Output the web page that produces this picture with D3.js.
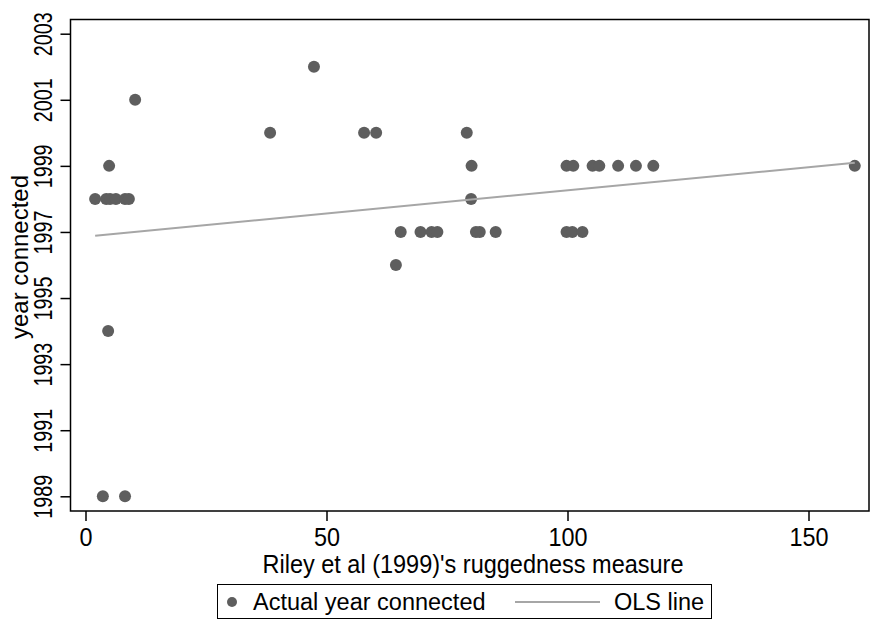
<!DOCTYPE html>
<html>
<head>
<meta charset="utf-8">
<script src="https://cdn.jsdelivr.net/npm/d3@7"></script>
<style>
  body { margin: 0; background: #fff; }
  text { font-family: "Liberation Sans", Arial, sans-serif; fill: #000; }
</style>
</head>
<body>
<div id="chart"></div>
<script>
// ruggedness measure (x) and year connected (y)
const rugged = [2.0, 4.3, 5.1, 6.3, 8.2, 9.0, 4.9, 4.7, 3.6, 8.2, 10.3,
                38.3, 47.4, 57.8, 60.3, 79.1, 80.1, 80.0,
                65.4, 69.5, 71.8, 73.0, 81.0, 81.8, 85.1, 64.4,
                99.8, 101.2, 105.2, 106.6, 110.5, 114.2, 117.8,
                99.8, 101.0, 103.1, 159.6];
const yearConnected = [1998, 1998, 1998, 1998, 1998, 1998, 1999, 1994, 1989, 1989, 2001,
                       2000, 2002, 2000, 2000, 2000, 1999, 1998,
                       1997, 1997, 1997, 1997, 1997, 1997, 1997, 1996,
                       1999, 1999, 1999, 1999, 1999, 1999, 1999,
                       1997, 1997, 1997, 1999];
// OLS fit: year = a + b * ruggedness
const olsCoef = [1996.86, 0.014];

const xTicks = [0, 50, 100, 150];
const yTicks = [1989, 1991, 1993, 1995, 1997, 1999, 2001, 2003];
const legendLabels = ["Actual year connected", "OLS line"];

const W = 873, H = 631;
const frame = {left: 70.5, top: 19.5, right: 869, bottom: 511};

const svg = d3.select("#chart").append("svg")
    .attr("width", W).attr("height", H);

const x = d3.scaleLinear().domain([0, 150]).range([85.5, 808.5]);
const y = d3.scaleLinear().domain([1989, 2003]).range([496.3, 33.7]);

// plot frame
svg.append("rect")
    .attr("x", frame.left).attr("y", frame.top)
    .attr("width", frame.right - frame.left)
    .attr("height", frame.bottom - frame.top)
    .attr("fill", "none").attr("stroke", "#000").attr("stroke-width", 1.5);

// x axis
const xAxis = svg.append("g")
    .attr("transform", "translate(0," + frame.bottom + ")")
    .call(d3.axisBottom(x).tickValues(xTicks).tickSize(10).tickPadding(7).tickFormat(d3.format("d")));
xAxis.select(".domain").remove();
xAxis.selectAll("line").attr("stroke", "#000").attr("stroke-width", 1.5);
xAxis.selectAll("text").attr("font-size", 26).attr("fill", "#000")
    .attr("transform", "scale(0.9,1)");

// y axis with rotated labels
const yAxis = svg.append("g")
    .attr("transform", "translate(" + frame.left + ",0)")
    .call(d3.axisLeft(y).tickValues(yTicks).tickSize(10).tickFormat(d3.format("d")));
yAxis.select(".domain").remove();
yAxis.selectAll("line").attr("stroke", "#000").attr("stroke-width", 1.5);
yAxis.selectAll("text")
    .attr("font-size", 26).attr("fill", "#000")
    .attr("x", 0).attr("dy", 0)
    .attr("text-anchor", "middle")
    .attr("transform", "translate(-18.5,0) rotate(-90) scale(0.76,1)");

// axis titles
svg.append("text")
    .attr("transform", "translate(473,573) scale(0.94,1)")
    .attr("text-anchor", "middle").attr("font-size", 25)
    .text("Riley et al (1999)'s ruggedness measure");
svg.append("text")
    .attr("transform", "translate(28,257) rotate(-90)")
    .attr("text-anchor", "middle").attr("font-size", 24)
    .text("year connected");

// points
svg.append("g").selectAll("circle")
    .data(rugged.map((r, i) => [r, yearConnected[i]]))
    .enter().append("circle")
    .attr("cx", d => x(d[0]))
    .attr("cy", d => y(d[1]))
    .attr("r", 6)
    .attr("fill", "#5e5e5e");

// OLS line
const xExt = d3.extent(rugged);
svg.append("line")
    .attr("x1", x(xExt[0])).attr("y1", y(olsCoef[0] + olsCoef[1] * xExt[0]))
    .attr("x2", x(xExt[1])).attr("y2", y(olsCoef[0] + olsCoef[1] * xExt[1]))
    .attr("stroke", "#a6a6a6").attr("stroke-width", 2);

// legend
const lg = svg.append("g");
lg.append("rect")
    .attr("x", 217.5).attr("y", 584.5).attr("width", 494).attr("height", 34)
    .attr("fill", "#fff").attr("stroke", "#000").attr("stroke-width", 1);
lg.append("circle").attr("cx", 232).attr("cy", 602).attr("r", 5).attr("fill", "#5e5e5e");
lg.append("text").attr("x", 253).attr("y", 610).attr("font-size", 23.5).text(legendLabels[0]);
lg.append("line").attr("x1", 515).attr("x2", 600).attr("y1", 602).attr("y2", 602)
    .attr("stroke", "#a6a6a6").attr("stroke-width", 2);
lg.append("text").attr("x", 614).attr("y", 610).attr("font-size", 23.5).text(legendLabels[1]);
</script>
</body>
</html>
